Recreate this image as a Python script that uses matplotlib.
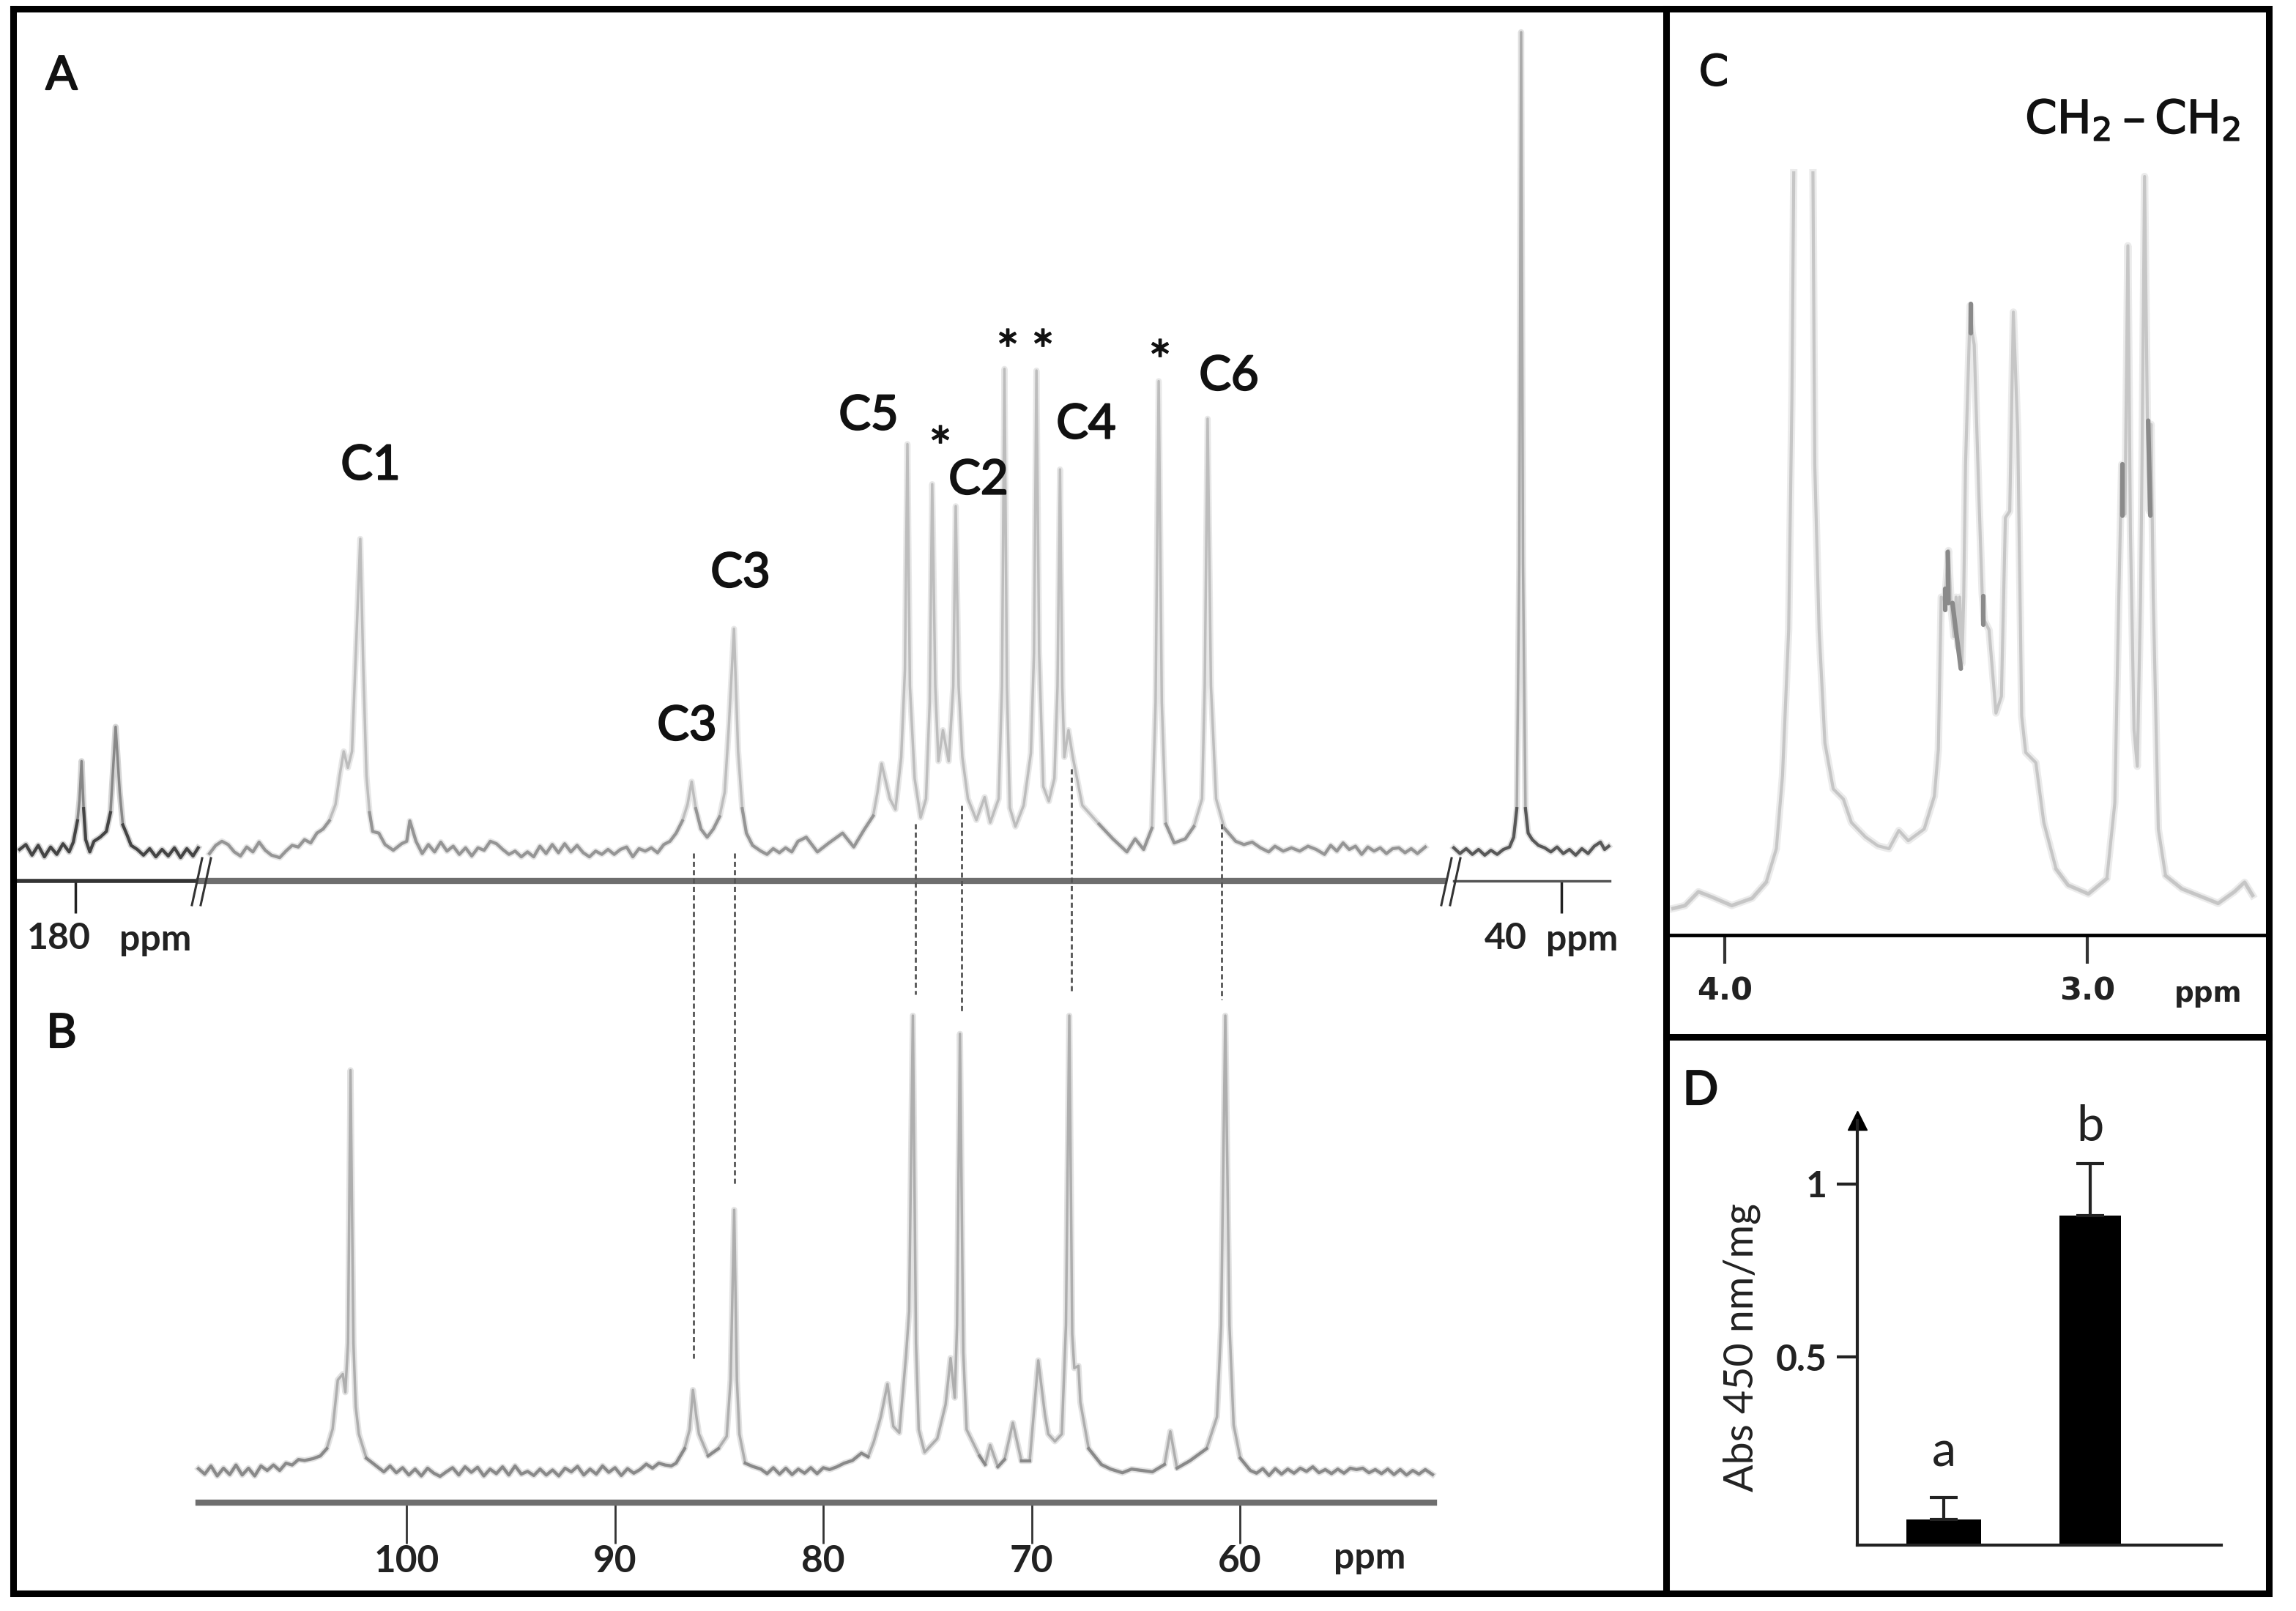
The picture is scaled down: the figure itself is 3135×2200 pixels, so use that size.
import numpy as np
import matplotlib
matplotlib.use('Agg')
import matplotlib.pyplot as plt
import matplotlib.patheffects as pe

plt.rcParams['font.family'] = ['Lato', 'DejaVu Sans']
plt.rcParams['mathtext.default'] = 'regular'

# (ppm, intensity), intensity in % of the tallest peak
a_left = [(182.7,0.0),(182.4,0.6),(182.1,-0.7),(181.8,0.5),(181.5,-0.9),(181.2,0.3),(180.9,-0.6),(180.6,0.7),(180.3,-0.3),
    (180.1,0.9),(179.9,3.5),(179.8,6),(179.7,10.8),(179.6,5),(179.5,1.2),(179.3,-0.3),(179.1,1),(178.8,1.5),(178.5,2.2),(178.3,4.5),
    (178.05,15),(177.85,7),(177.7,3),(177.5,1.8),(177.3,0.5),(177,0),(176.7,-0.7),(176.4,0.1),(176.1,-0.9),(175.8,0),(175.5,-0.8),
    (175.2,0.2),(174.9,-1),(174.6,0.1),(174.3,-0.8),(174.05,0.2)]

a_main = [(109.5,-0.5),(109.2,0.5),(108.9,1.0),(108.6,0.6),(108.3,-0.3),(108,-0.8),(107.7,0.3),(107.4,-0.3),(107.1,0.9),(106.8,-0.1),
    (106.5,-0.7),(106.1,-1.0),(105.8,-0.2),(105.5,0.5),(105.2,0.3),(104.9,1.2),(104.6,0.8),(104.3,2),(104,2.5),(103.7,3.5),(103.4,5.5),
    (103.2,9),(103,12),(102.8,10),(102.6,12),(102.4,25),(102.2,38),(102.05,22),(101.9,9),(101.75,4.5),(101.6,2.2),(101.3,2),(101,0.6),
    (100.6,-0.1),(100.2,0.7),(99.95,1),(99.8,3.5),(99.5,1),(99.2,-0.5),(98.9,0.6),(98.6,-0.3),(98.3,0.9),(98,-0.2),(97.7,0.4),(97.4,-0.6),
    (97.1,0.2),(96.8,-0.8),(96.5,0.2),(96.2,-0.1),(95.9,1),(95.6,0.7),(95.3,0),(95,-0.6),(94.7,-0.2),(94.4,-0.9),(94.1,-0.3),(93.8,-0.9),
    (93.5,0.4),(93.2,-0.5),(92.9,0.6),(92.6,-0.4),(92.3,0.7),(92,-0.3),(91.7,0.5),(91.4,-0.4),(91.1,-0.9),(90.8,-0.2),(90.5,-0.6),(90.2,0),
    (89.9,-0.6),(89.6,0),(89.3,0.3),(89,-0.9),(88.7,0.1),(88.4,-0.2),(88.1,0.2),(87.8,-0.4),(87.5,0.6),(87.2,1),(86.9,2),(86.6,3.5),
    (86.35,5.5),(86.15,8.3),(85.95,5),(85.7,2.5),(85.4,1.5),(85.1,2.5),(84.8,4),(84.55,7),(84.35,15),(84.1,27),(83.9,12),(83.7,5),(83.5,2),
    (83.2,0.5),(82.8,-0.2),(82.5,-0.6),(82.2,0.1),(81.9,-0.4),(81.6,0.2),(81.3,-0.3),(81,1),(80.6,1.5),(80.06,-0.3),(79.5,0.8),(78.84,2),
    (78.3,0.3),(77.8,2.4),(77.36,4.1),(77.15,7),(76.95,10.5),(76.55,6.2),(76.28,4.9),(76,11.3),(75.82,22),(75.7,49.6),(75.58,20),(75.35,8.7),
    (75.06,3.9),(74.8,6.2),(74.62,18),(74.5,44.7),(74.35,20),(74.2,10.8),(73.98,14.6),(73.7,10.8),(73.48,20),(73.36,42),(73.22,20),(73.04,11.3),
    (72.77,6.2),(72.36,3.6),(71.96,6.4),(71.69,3.3),(71.28,6.2),(71.12,20),(71,58.8),(70.88,20),(70.74,5.1),(70.47,2.8),(70.07,5.4),(69.72,11.8),
    (69.57,24),(69.45,58.6),(69.32,24),(69.12,7.7),(68.85,5.9),(68.58,8.7),(68.43,20),(68.31,46.5),(68.2,20),(68.1,11.3),(67.9,14.6),(67.69,11.3),
    (67.23,5.4),(66.42,3.1),(65.75,1.3),(65.07,-0.3),(64.67,1.3),(64.26,0),(63.86,2.6),(63.68,18),(63.53,57.3),(63.38,18),(63.18,3.1),(62.78,0.8),
    (62.24,1.3),(61.83,2.8),(61.43,6.2),(61.3,20),(61.16,52.7),(61,20),(60.75,6.2),(60.35,2.6),(59.8,1),(59.4,0.6),(59,0.9),(58.6,0.2),(58.2,-0.3),
    (57.9,0.4),(57.5,-0.2),(57.1,0.2),(56.7,-0.2),(56.3,0.4),(55.9,0),(55.5,-0.6),(55.2,0.5),(54.9,-0.2),(54.6,0.8),(54.3,0),(54,0.4),(53.7,-0.6),
    (53.4,0.3),(53.1,-0.2),(52.8,0.2),(52.5,-0.5),(52.2,0.1),(51.9,0.2),(51.6,-0.4),(51.3,0.1),(51,-0.5),(50.62,0.3)]

a_right = [(45.2,0.2),(44.9,-0.5),(44.6,0.1),(44.3,-0.6),(44,0),(43.7,-0.7),(43.4,-0.1),(43.1,-0.6),(42.8,0),(42.5,0.3),(42.3,1.5),(42.15,5),
    (42.03,35),(41.94,100),(41.85,35),(41.73,5),(41.6,2),(41.4,1.2),(41.1,0.5),(40.8,0.2),(40.5,-0.3),(40.2,0.3),(39.9,-0.5),(39.6,0),(39.3,-0.7),
    (39,0.1),(38.7,-0.5),(38.4,0.4),(38.1,0.9),(37.9,0),(37.7,0.4)]

b_trace = [(110,0.4),(109.7,-0.8),(109.4,1),(109.1,-1.2),(108.8,0.5),(108.5,-0.9),(108.2,1.2),(107.9,-1),(107.6,0.5),(107.3,-1.2),(107,1),(106.7,0),
    (106.4,1.2),(106.1,0),(105.8,1.6),(105.5,1.2),(105.2,2.4),(104.9,2.2),(104.5,2.6),(104.15,3.2),(103.84,4.8),(103.56,9.1),(103.31,19.9),(103.07,21.2),
    (102.95,17.2),(102.82,28),(102.7,88),(102.56,28),(102.45,14),(102.3,8),(101.94,2.7),(101.41,0.8),(101.1,-0.3),(100.8,1),(100.5,-0.5),(100.2,0.6),
    (99.9,-1),(99.6,0.3),(99.3,-1.2),(99,0.5),(98.7,-0.6),(98.4,-1.3),(98.1,-0.3),(97.8,0.6),(97.5,-1),(97.2,0.8),(96.9,-0.4),(96.6,0.7),(96.3,-1.2),
    (96,0.3),(95.7,-0.7),(95.4,0.8),(95.1,-1),(94.8,1),(94.5,-0.8),(94.2,-0.2),(93.9,-1.1),(93.6,0.3),(93.3,-1),(93,0.1),(92.7,-1.2),(92.4,0.5),
    (92.1,-0.3),(91.8,0.9),(91.5,-1),(91.2,0.3),(90.9,-0.8),(90.6,1),(90.3,-0.4),(90,0.6),(89.7,-1.1),(89.4,0.4),(89.1,-0.6),(88.8,0.2),(88.5,1.4),
    (88.2,0.5),(87.9,1.6),(87.6,1.2),(87.3,1),(87.07,1.6),(86.66,4.8),(86.42,9),(86.26,17.7),(86.1,12),(85.97,8),(85.53,3.2),(85.04,4.8),(84.64,7.5),
    (84.45,20),(84.28,57.3),(84.15,20),(84.03,8),(83.75,1.6),(83.4,0.9),(83,0.3),(82.7,-0.7),(82.4,0.6),(82.1,-0.8),(81.8,0.5),(81.5,-0.9),(81.2,0.3),
    (80.9,-0.6),(80.6,0.6),(80.3,-0.7),(80,0.6),(79.7,0.2),(79.35,0.8),(79,1.6),(78.6,2.2),(78.17,3.8),(77.85,3),(77.57,6.4),(77.24,11.8),(76.92,19),
    (76.64,9.7),(76.35,8.3),(76.03,25.2),(75.88,35),(75.7,100),(75.55,28),(75.42,9),(75.14,4),(74.53,7),(74.13,14.5),(73.89,24.7),(73.69,16),(73.58,32),
    (73.44,96),(73.28,26),(73.12,9),(72.5,3.2),(72.23,1.3),(71.99,5.6),(71.62,0.8),(71.3,2.4),(70.9,10.5),(70.49,2.1),(70.09,2.1),(69.68,24.2),(69.36,12.3),
    (69.2,8),(68.88,6.4),(68.55,8),(68.35,32),(68.19,100),(68.05,30),(67.95,22.5),(67.75,23),(67.66,15),(67.26,4.8),(66.65,1.3),(66.2,0.3),(65.64,-0.5),
    (65.2,0.3),(64.7,0),(64.2,-0.3),(63.62,1.3),(63.34,8.6),(63.02,0.5),(62.41,2.1),(61.6,4.8),(61.1,11.8),(60.9,32),(60.7,100),(60.5,32),(60.3,10),
    (59.98,2.7),(59.5,0),(59.2,-0.6),(58.9,0.4),(58.6,-1.1),(58.3,0.4),(58,-0.8),(57.7,0.3),(57.4,-0.6),(57.1,0.5),(56.8,-0.2),(56.5,0.8),(56.2,-0.5),
    (55.9,0.2),(55.6,-0.7),(55.3,0.3),(55,-0.6),(54.7,0.5),(54.4,0.2),(54.1,0.5),(53.8,-0.5),(53.5,0.2),(53.2,-0.7),(52.9,0.3),(52.6,-0.9),(52.3,0.2),
    (52,-1),(51.7,0),(51.4,-0.8),(51.1,0.2),(50.75,-0.9)]

c_up = [(4.143,-0.9),(4.110,-0.5),(4.073,1.4),(4.037,0.7),(3.981,-0.5),(3.925,0.5),(3.886,2.7),(3.858,7.3),(3.841,17.3),(3.824,37.3),(3.815,69.1),(3.810,100)]
c_down = [(3.757,100),(3.752,60),(3.740,37.3),(3.724,21.8),(3.701,15.5),(3.673,14.1),(3.651,10.9),(3.612,8.9),(3.578,7.7),(3.547,7.3),(3.520,9.8),(3.494,8.4),
    (3.450,10),(3.422,14.5),(3.411,20.9),(3.403,41.8),(3.393,41.4),(3.383,48.2),(3.375,40),(3.368,36.4),(3.362,41.8),(3.357,35),(3.352,41.8),(3.346,32.7),
    (3.341,41.8),(3.336,60),(3.323,81.8),(3.318,78.2),(3.312,76.4),(3.299,55.5),(3.290,42.3),(3.284,38.6),(3.271,37.3),(3.252,25.9),(3.237,28.2),(3.226,52.7),
    (3.214,53.6),(3.204,80.9),(3.192,64.5),(3.181,25.5),(3.170,20.5),(3.142,19.1),(3.120,10.9),(3.086,4.5),(3.053,2.3),(2.997,1.1),(2.946,3.2),(2.924,13.6),
    (2.913,41.8),(2.905,60),(2.896,53.2),(2.888,90),(2.881,50.9),(2.871,23.6),(2.862,18.6),(2.853,41.8),(2.849,60),(2.842,99.5),(2.834,65.5),(2.829,53.6),
    (2.824,65.5),(2.818,41.8),(2.804,10),(2.784,3.6),(2.739,1.8),(2.639,-0.2),(2.594,1.4),(2.566,2.7),(2.544,0.9)]
# the darker knots on the proton multiplets
c_knots = [[(3.393,43),(3.393,40)],[(3.385,48),(3.383,41)],[(3.372,41),(3.362,37),(3.354,34),(3.349,32)],[(3.321,82),(3.321,78)],[(3.287,42),(3.287,38)],
    [(2.903,60),(2.903,53)],[(2.832,66),(2.826,53)]]

d_groups = ['a', 'b']
d_values = [0.03, 0.909]
d_errors = [0.063, 0.151]
d_ticks = [0.5, 1]
d_tick_labels = ['0.5', '1']

b_ticks = [100, 90, 80, 70, 60]


def panel_ax(x0, y0, x1, y1):
    # rectangle given in pixels from the top left of the picture
    ax = fig.add_axes([x0/3135, 1-y1/2200, (x1-x0)/3135, (y1-y0)/2200])
    ax.patch.set_alpha(0)
    for s in ['top', 'left', 'right']:
        ax.spines[s].set_visible(False)
    ax.set_yticks([])
    ax.set_xticks([])
    return ax


def draw_trace(ax, points, light, dark, lw=2.5, thr=5):
    x = np.array([p[0] for p in points])
    y = np.array([p[1] for p in points])
    # wide faint line under the real one, the scan is soft
    ax.plot(x, y, color=light, lw=lw*2.4, alpha=0.35, solid_joinstyle='round', clip_on=False)
    ax.plot(x, y, color=light, lw=lw, solid_joinstyle='round', clip_on=False)
    ax.plot(x, np.ma.masked_where(y > thr, y), color=dark, lw=lw+0.6, alpha=0.8, clip_on=False)


def heavy(color, w=1.1):
    return [pe.withStroke(linewidth=w, foreground=color)]


fig = plt.figure(figsize=(31.35, 22), dpi=100)

# overlay in picture pixels, for the frame, labels and connecting lines
over = fig.add_axes([0, 0, 1, 1], zorder=5)
over.set_xlim(0, 3135)
over.set_ylim(2200, 0)
over.axis('off')
over.patch.set_alpha(0)

for xs, ys in [([18, 3098, 3098, 18, 18], [12, 12, 2176, 2176, 12]), ([2275, 2275], [12, 2176]), ([2275, 3098], [1416, 1416])]:
    over.plot(xs, ys, color='black', lw=6.5, solid_joinstyle='miter')

# panel A, three pieces with breaks
ax_al = panel_ax(24, 44, 272, 1203)
ax_al.set_xlim(182.8, 174.0)
ax_al.set_ylim(-3.85, 100)
draw_trace(ax_al, a_left, '#888888', '#333333', lw=2.5)
ax_al.spines['bottom'].set_linewidth(4)
ax_al.spines['bottom'].set_color('#333333')
ax_al.set_xticks([180])
ax_al.set_xticklabels([''])
ax_al.tick_params(axis='x', length=32, width=2.5, color='#222222')

ax_am = panel_ax(272, 44, 1972, 1203)
ax_am.set_xlim(110.0, 49.7)
ax_am.set_ylim(-3.85, 100)
draw_trace(ax_am, a_main, '#bdbdbd', '#8c8c8c')
ax_am.spines['bottom'].set_linewidth(6)
ax_am.spines['bottom'].set_color('#6e6e6e')

ax_ar = panel_ax(1985, 44, 2198, 1203)
ax_ar.set_xlim(45.2, 37.65)
ax_ar.set_ylim(-3.85, 100)
draw_trace(ax_ar, a_right, '#aaaaaa', '#444444')
ax_ar.spines['bottom'].set_linewidth(2.5)
ax_ar.spines['bottom'].set_color('#555555')
ax_ar.set_xticks([40])
ax_ar.set_xticklabels([''])
ax_ar.tick_params(axis='x', length=32, width=2.5, color='#222222')

for x in [262, 274, 1968, 1980]:
    over.plot([x, x+14], [1236, 1172], color='#333333', lw=2.2)

# panel B
ax_b = panel_ax(271, 1387, 1958, 2052)
ax_b.set_xlim(110, 50.68)
ax_b.set_ylim(-7.07, 100)
draw_trace(ax_b, b_trace, '#aeaeae', '#808080')
ax_b.spines['bottom'].set_linewidth(6)
ax_b.spines['bottom'].set_color('#6e6e6e')
ax_b.set_xticks(b_ticks)
ax_b.set_xticklabels([str(t) for t in b_ticks], fontsize=37, fontweight='bold', color='#222222')
ax_b.tick_params(axis='x', length=40, width=2, color='#333333', pad=1)

# dashed lines between the spectra
for x, y0, y1 in [(947, 1165, 1855), (1003, 1165, 1620), (1250, 1125, 1358), (1313, 1100, 1382), (1463, 1050, 1355), (1668, 1125, 1365)]:
    over.plot([x, x], [y0, y1], color='#555555', lw=2, ls=(0, (2.5, 1.6)))

# panel C
ax_c = panel_ax(2277, 236, 3092, 1277)
ax_c.set_xlim(4.158, 2.511)
ax_c.set_ylim(-4.55, 100)
draw_trace(ax_c, c_up, '#c6c6c6', '#c6c6c6', lw=3)
draw_trace(ax_c, c_down, '#c6c6c6', '#c6c6c6', lw=3)
for knot in c_knots:
    ax_c.plot([k[0] for k in knot], [k[1] for k in knot], color='#8a8a8a', lw=4.5, solid_capstyle='round')
ax_c.spines['bottom'].set_linewidth(3.5)
ax_c.set_xticks([4.0, 3.0])
ax_c.set_xticklabels(['4.0', '3.0'], fontsize=31, fontweight='bold', family='DejaVu Sans', color='#222222')
ax_c.tick_params(axis='x', length=28, width=3, color='#333333', pad=12)

# panel D
ax_d = panel_ax(2536, 1530, 3033, 2110)
ax_d.set_xlim(-0.59, 1.895)
ax_d.set_ylim(-0.044, 1.184)
ax_d.spines['left'].set_visible(True)
ax_d.spines['left'].set_linewidth(3)
ax_d.spines['bottom'].set_linewidth(3)
for s in ['left', 'bottom']:
    ax_d.spines[s].set_color('#222222')
ax_d.bar([0, 1], np.array(d_values)+0.044, width=[0.51, 0.42], bottom=-0.044, color='black')
ax_d.errorbar([0, 1], d_values, yerr=[[0, 0], d_errors], fmt='none', ecolor='#222222', elinewidth=3, capsize=14, capthick=3)
ax_d.set_yticks(d_ticks)
ax_d.set_yticklabels(d_tick_labels, fontsize=36, fontweight='bold', color='#222222')
ax_d.tick_params(axis='y', length=20, width=3, color='#222222', pad=10)
ax_d.plot(0, 1, '^', color='black', ms=19, transform=ax_d.transAxes, clip_on=False)
for i, g in enumerate(d_groups):
    ax_d.text(i, d_values[i]+d_errors[i]+[0.065, 0.04][i], g, ha='center', va='bottom', fontsize=48, color='#222222')

# labels of the panels and peaks
txt = [('A', 84, 104, 46), ('B', 84, 1412, 46), ('D', 2322, 1490, 46),
    ('C1', 506, 636, 47), ('C3', 938, 992, 47), ('C3', 1011, 783, 47), ('C5', 1186, 568, 47),
    ('C2', 1336, 656, 47), ('C4', 1483, 580, 47), ('C6', 1678, 514, 47)]
for s, x, y, size in txt:
    over.text(x, y, s, ha='center', va='center', fontsize=size, color='#111111', path_effects=heavy('#111111', 1.6))
for x, y in [(1284, 616), (1376, 484), (1424, 484), (1584, 498)]:
    over.text(x, y, '*', ha='center', va='center', fontsize=54, color='#111111', path_effects=heavy('#111111', 1))

for s, x, y in [('180', 80, 1282), ('ppm', 212, 1284), ('40', 2056, 1282), ('ppm', 2160, 1284), ('ppm', 1870, 2128)]:
    over.text(x, y, s, ha='center', va='center', fontsize=36, fontweight='bold', color='#222222')
over.text(3015, 1358, 'ppm', ha='center', va='center', fontsize=27, fontweight='bold', family='DejaVu Sans', color='#222222')
over.text(2340, 100, 'C', ha='center', va='center', fontsize=42, family='DejaVu Sans', color='#111111', path_effects=heavy('#111111'))
over.text(2912, 165, 'CH$_2$\u2009\u2013\u2009CH$_2$', ha='center', va='center', fontsize=45, family='DejaVu Sans', color='#111111', path_effects=heavy('#111111', 1.2))
over.text(2378, 1840, 'Abs 450 nm/mg', ha='center', va='center', rotation=90, fontsize=40, color='#222222')

fig.savefig('out.png', dpi=100)
